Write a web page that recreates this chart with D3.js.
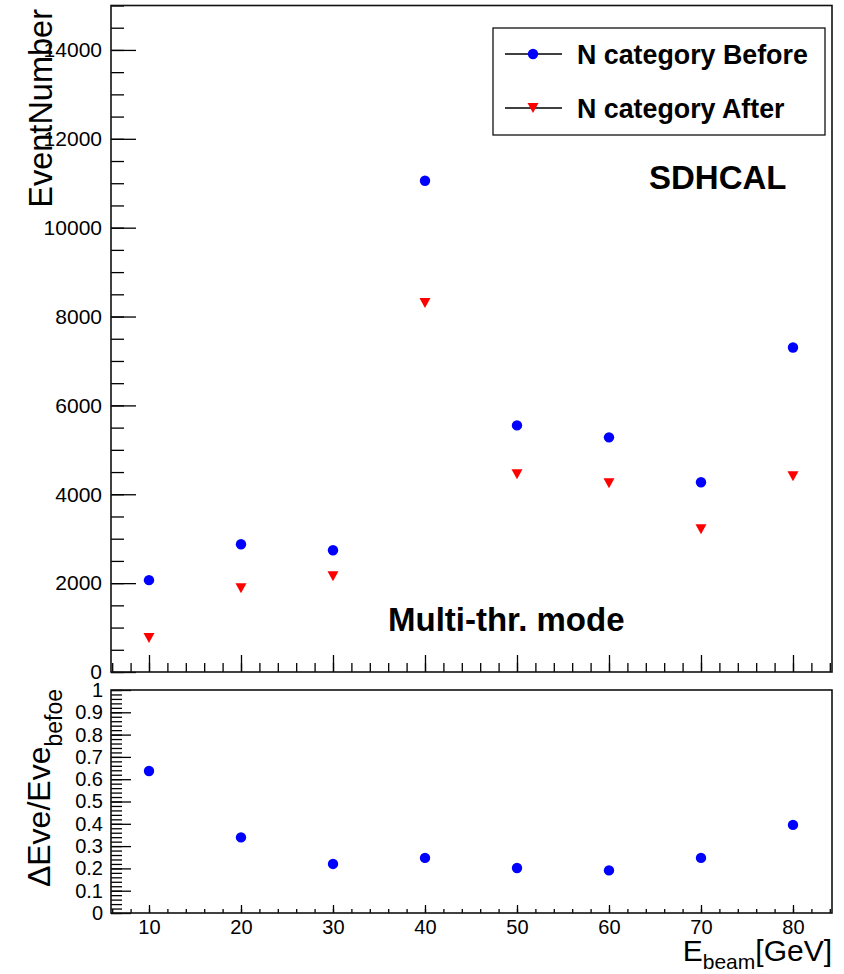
<!DOCTYPE html>
<html>
<head>
<meta charset="utf-8">
<script src="https://cdn.jsdelivr.net/npm/d3@7"></script>
<style>
	body { margin: 0; background: #fff; }
	svg { display: block; font-family: 'Liberation Sans', Arial, Helvetica, sans-serif; }
</style>
</head>
<body>
<div class="chart"></div>
<script>
// beam energies (GeV)
const energies = [10, 20, 30, 40, 50, 60, 70, 80]
// event numbers
const before = [2067, 2876, 2741, 11055, 5550, 5281, 4270, 7303]
const after = [764, 1887, 2157, 8303, 4449, 4247, 3213, 4404]
// relative loss, lower pad
const ratio = [0.637, 0.339, 0.22, 0.247, 0.202, 0.191, 0.247, 0.395]

const legendLabels = ['N category Before', 'N category After']
const topTicks = [0, 2000, 4000, 6000, 8000, 10000, 12000, 14000]
const lowTicks = [0, 0.1, 0.2, 0.3, 0.4, 0.5, 0.6, 0.7, 0.8, 0.9, 1]
const xTicks = [10, 20, 30, 40, 50, 60, 70, 80]

const width = 844
const height = 974
const svg = d3.select('.chart')
	.append('svg')
	.attr('width', width)
	.attr('height', height)
	.attr('viewBox', [0, 0, width, height])

const left = 111, right = 832
const x = d3.scaleLinear().domain([5.87, 84.24]).range([left, right])
const yTop = d3.scaleLinear().domain([0, 15000]).range([672, 5.5])
const yLow = d3.scaleLinear().domain([0, 1]).range([913, 690])

// custom down-pointing triangle centred on its bounding box
const triangleDown = {
	draw(ctx, size) {
		const w = Math.sqrt(size) * 0.55, h = Math.sqrt(size) * 0.5
		ctx.moveTo(-w, -h)
		ctx.lineTo(w, -h)
		ctx.lineTo(0, h)
		ctx.closePath()
	}
}

function styleAxis(g) {
	g.select('.domain').remove()
	g.selectAll('line').attr('stroke', '#000').attr('stroke-width', 1.3)
	g.selectAll('text').attr('fill', '#000').attr('font-family', null)
}

// ---------- top pad ----------
const topPad = svg.append('g')

topPad.append('g')
	.attr('transform', `translate(${left},0)`)
	.call(d3.axisLeft(yTop).tickValues(d3.range(0, 15001, 500)).tickSize(-13).tickFormat(''))
	.call(styleAxis)
topPad.append('g')
	.attr('transform', `translate(${left},0)`)
	.call(d3.axisLeft(yTop).tickValues(topTicks).tickSize(-25).tickPadding(9).tickFormat(d3.format('d')))
	.call(styleAxis)
	.selectAll('text').attr('font-size', 21)

topPad.append('g')
	.attr('transform', 'translate(0,672)')
	.call(d3.axisBottom(x).tickValues(d3.range(6, 85, 2)).tickSize(-9).tickFormat(''))
	.call(styleAxis)
topPad.append('g')
	.attr('transform', 'translate(0,672)')
	.call(d3.axisBottom(x).tickValues(xTicks).tickSize(-17).tickFormat(''))
	.call(styleAxis)

topPad.append('rect')
	.attr('x', left).attr('y', yTop(15000))
	.attr('width', right - left).attr('height', yTop(0) - yTop(15000))
	.attr('fill', 'none').attr('stroke', '#111').attr('stroke-width', 1.6)

topPad.selectAll('circle.before')
	.data(energies)
	.enter()
	.append('circle')
	.attr('class', 'before')
	.attr('cx', d => x(d))
	.attr('cy', (d, i) => yTop(before[i]))
	.attr('r', 5.2)
	.attr('fill', '#0000ff')

topPad.selectAll('path.after')
	.data(energies)
	.enter()
	.append('path')
	.attr('class', 'after')
	.attr('d', d3.symbol().type(triangleDown).size(100))
	.attr('transform', (d, i) => `translate(${x(d)},${yTop(after[i])})`)
	.attr('fill', '#ff0000')

topPad.append('text')
	.attr('transform', 'translate(52,9) rotate(-90)')
	.attr('text-anchor', 'end')
	.attr('font-size', 32.5)
	.text('EventNumber')

topPad.append('text')
	.attr('x', 649).attr('y', 189)
	.attr('font-size', 33).attr('font-weight', 'bold')
	.text('SDHCAL')

topPad.append('text')
	.attr('x', 388).attr('y', 631)
	.attr('font-size', 33).attr('font-weight', 'bold')
	.text('Multi-thr. mode')

// legend
const legend = topPad.append('g')
legend.append('rect')
	.attr('x', 493).attr('y', 28).attr('width', 332).attr('height', 107)
	.attr('fill', '#fff').attr('stroke', '#111').attr('stroke-width', 1.3)
const rows = legend.selectAll('g.row')
	.data(legendLabels)
	.enter()
	.append('g')
	.attr('class', 'row')
	.attr('transform', (d, i) => `translate(0,${54 + i * 54})`)
rows.append('line')
	.attr('x1', 505).attr('x2', 562)
	.attr('stroke', '#000').attr('stroke-width', 1.3)
rows.append('text')
	.attr('x', 577).attr('y', 10)
	.attr('font-size', 26.8).attr('font-weight', 'bold')
	.text(d => d)
rows.filter((d, i) => i == 0).append('circle')
	.attr('cx', 533).attr('r', 5.2).attr('fill', '#0000ff')
rows.filter((d, i) => i == 1).append('path')
	.attr('d', d3.symbol().type(triangleDown).size(100))
	.attr('transform', 'translate(533,0)')
	.attr('fill', '#ff0000')

// ---------- lower pad ----------
const lowPad = svg.append('g')

lowPad.append('g')
	.attr('transform', `translate(${left},0)`)
	.call(d3.axisLeft(yLow).tickValues(d3.range(0, 1.001, 0.02)).tickSize(-11).tickFormat(''))
	.call(styleAxis)
lowPad.append('g')
	.attr('transform', `translate(${left},0)`)
	.call(d3.axisLeft(yLow).tickValues(lowTicks).tickSize(-20).tickPadding(8).tickFormat(d3.format('')))
	.call(styleAxis)
	.selectAll('text').attr('font-size', 20)

lowPad.append('g')
	.attr('transform', 'translate(0,913)')
	.call(d3.axisBottom(x).tickValues(d3.range(6, 85, 2)).tickSize(-4).tickFormat(''))
	.call(styleAxis)
lowPad.append('g')
	.attr('transform', 'translate(0,913)')
	.call(d3.axisBottom(x).tickValues(xTicks).tickSize(-8).tickPadding(7))
	.call(styleAxis)
	.selectAll('text').attr('font-size', 20)

lowPad.append('rect')
	.attr('x', left).attr('y', yLow(1))
	.attr('width', right - left).attr('height', yLow(0) - yLow(1))
	.attr('fill', 'none').attr('stroke', '#111').attr('stroke-width', 1.6)

lowPad.selectAll('circle.ratio')
	.data(energies)
	.enter()
	.append('circle')
	.attr('class', 'ratio')
	.attr('cx', d => x(d))
	.attr('cy', (d, i) => yLow(ratio[i]))
	.attr('r', 5.2)
	.attr('fill', '#0000ff')

// y title of lower pad
const yt = lowPad.append('text')
	.attr('transform', 'translate(50,689) rotate(-90)')
	.attr('text-anchor', 'end')
	.attr('font-size', 32)
yt.append('tspan').text('\u0394Eve/Eve')
yt.append('tspan').attr('dy', 12).attr('font-size', 23).text('befoe')

// x title
const xt = lowPad.append('text')
	.attr('x', right).attr('y', 961)
	.attr('text-anchor', 'end')
	.attr('font-size', 30)
xt.append('tspan').text('E')
xt.append('tspan').attr('dy', 8).attr('font-size', 21).text('beam')
xt.append('tspan').attr('dy', -8).text('[GeV]')
</script>
</body>
</html>
